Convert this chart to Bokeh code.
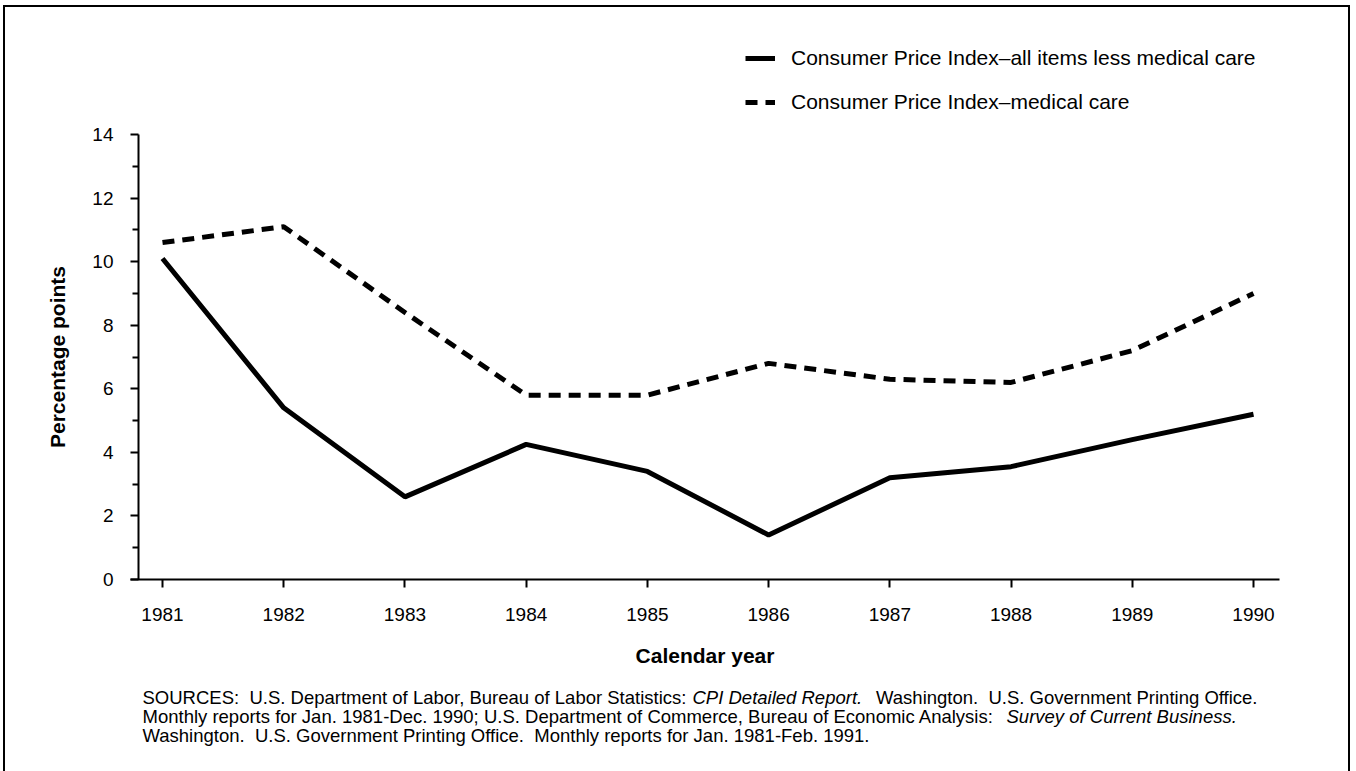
from bokeh.plotting import figure
from bokeh.models import Legend, LegendItem, Label, FixedTicker, Range1d, LinearAxis
from bokeh.embed import file_html
from bokeh.resources import INLINE

years = [1981, 1982, 1983, 1984, 1985, 1986, 1987, 1988, 1989, 1990]
cpi_less_medical = [10.1, 5.4, 2.6, 4.25, 3.4, 1.4, 3.2, 3.55, 4.4, 5.2]
cpi_medical = [10.6, 11.1, 8.4, 5.8, 5.8, 6.8, 6.3, 6.2, 7.2, 9.0]
y_ticks = [0, 2, 4, 6, 8, 10, 12, 14]
y_minor_ticks = [1, 3, 5, 7, 9, 11, 13]
series_names = ["Consumer Price Index\u2013all items less medical care",
                "Consumer Price Index\u2013medical care"]
x_title = "Calendar year"
y_title = "Percentage points"
NB = "\u00a0 "  # double space kept visible
sources = [
    [("SOURCES:" + NB + "U.S. Department of Labor, Bureau of Labor Statistics:", "normal"),
     ("CPI Detailed Report.", "italic"),
     ("Washington." + NB + "U.S. Government Printing Office.", "normal")],
    [("Monthly reports for Jan. 1981-Dec. 1990; U.S. Department of Commerce, Bureau of Economic Analysis:", "normal"),
     ("Survey of Current Business.", "italic")],
    [("Washington." + NB + "U.S. Government Printing Office." + NB + "Monthly reports for Jan. 1981-Feb. 1991.", "normal")],
]

FONT = "Liberation Sans"

# ---- layout (pixels) ----
W, H = 1352, 771
px_first, px_last = 162, 1253      # x pixel of first / last year
py_zero, py_top = 579, 134         # y pixel of 0 and 14
ax_left_px, ax_right_px = 138, 1279
xline_left_px = 130
# (x pixel, alignment) of each source segment
source_x = [[(142, "left"), (692, "left"), (1257, "right")],
            [(142, "left"), (1006, "left")],
            [(142, "left")]]
source_y = [697, 716, 735]
legend_left_px, legend_bottom_px = 745, 114

ppx = (px_last - px_first) / (years[-1] - years[0])
ppy = (py_zero - py_top) / (y_ticks[-1] - y_ticks[0])
def xd(px):
    return years[0] + (px - px_first) / ppx
def yd(py):
    return y_ticks[0] + (py_zero - py) / ppy

p = figure(width=W, height=H, output_backend="svg", toolbar_location=None,
           x_range=Range1d(xd(0), xd(W)), y_range=Range1d(yd(H), yd(0)),
           x_axis_location=None, y_axis_location=None,
           min_border_left=0, min_border_right=0, min_border_top=0, min_border_bottom=0)
p.title.visible = False
p.xgrid.visible = False
p.ygrid.visible = False
p.outline_line_color = None
p.background_fill_color = None
p.border_fill_color = None
p.styles = {"background": "linear-gradient(#000,#000) left 3px top 5px / 2px 100% no-repeat, "
                          "linear-gradient(#000,#000) right 2px top 5px / 2px 100% no-repeat, "
                          "linear-gradient(#000,#000) left 3px top 5px / calc(100% - 5px) 2px no-repeat, #fff"}

r1 = p.line(years, cpi_less_medical, line_color="black", line_width=5)
r2 = p.line(years, cpi_medical, line_color="black", line_width=5, line_dash="12 8")

xaxis = LinearAxis(fixed_location=y_ticks[0], bounds=(xd(xline_left_px), xd(ax_right_px)),
                   ticker=FixedTicker(ticks=years))
yaxis = LinearAxis(fixed_location=xd(ax_left_px), bounds=(y_ticks[0], y_ticks[-1]),
                   ticker=FixedTicker(ticks=y_ticks, minor_ticks=y_minor_ticks))
for ax in (xaxis, yaxis):
    ax.axis_line_color = "black"
    ax.axis_line_width = 2
    ax.major_tick_line_color = "black"
    ax.major_tick_line_width = 2
    ax.major_tick_in = 0
    ax.major_tick_out = 8
    ax.major_label_text_font = FONT
    ax.major_label_text_font_size = "19px"
    ax.major_label_text_color = "black"
    ax.axis_label_text_font = FONT
    ax.axis_label_text_font_size = "21px"
    ax.axis_label_text_font_style = "bold"
    ax.axis_label_text_color = "black"
xaxis.minor_tick_line_color = None
xaxis.major_label_standoff = 20
xaxis.axis_label = x_title
xaxis.axis_label_standoff = 20
yaxis.minor_tick_out = 6
yaxis.minor_tick_in = 0
yaxis.minor_tick_line_color = "black"
yaxis.minor_tick_line_width = 2
yaxis.major_label_standoff = 17
yaxis.axis_label = y_title
yaxis.axis_label_standoff = 20
p.add_layout(xaxis, "below")
p.add_layout(yaxis, "left")

legend = Legend(items=[LegendItem(label=series_names[0], renderers=[r1]),
                       LegendItem(label=series_names[1], renderers=[r2])],
                location=(legend_left_px, H - legend_bottom_px), orientation="vertical",
                label_text_font=FONT, label_text_font_size="21px", label_text_color="black",
                glyph_width=30, glyph_height=20, label_height=20, label_standoff=16,
                spacing=20, padding=0, margin=0,
                border_line_color=None, background_fill_alpha=0)
p.add_layout(legend)

for li, line in enumerate(sources):
    for si, (txt, style) in enumerate(line):
        sx, align = source_x[li][si]
        p.add_layout(Label(x=sx, y=H - source_y[li], x_units="screen", y_units="screen",
                           text=txt, text_font=FONT, text_font_size="18.5px",
                           text_font_style=style, text_color="black",
                           text_baseline="middle", text_align=align))

open("out.html", "w").write(file_html(p, INLINE))
